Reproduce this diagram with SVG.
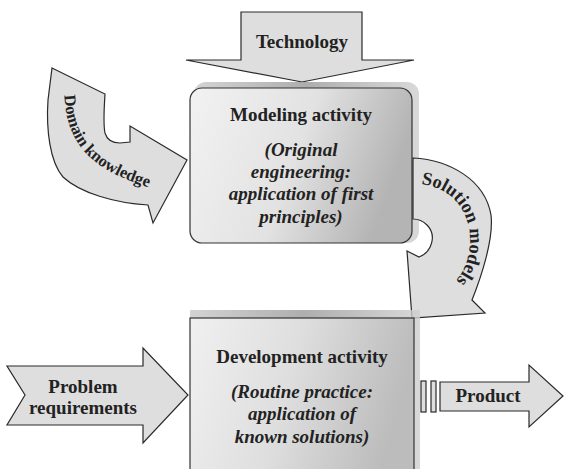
<svg xmlns="http://www.w3.org/2000/svg" width="564" height="469" viewBox="0 0 564 469">
<defs>
<linearGradient id="boxg" x1="0" y1="0" x2="1" y2="0.25">
<stop offset="0" stop-color="#f2f2f2"/>
<stop offset="0.55" stop-color="#e2e2e2"/>
<stop offset="1" stop-color="#b4b4b4"/>
</linearGradient>
<linearGradient id="devg" x1="0" y1="0" x2="1" y2="0.2">
<stop offset="0" stop-color="#f0f0f0"/>
<stop offset="0.5" stop-color="#dedede"/>
<stop offset="1" stop-color="#bcbcbc"/>
</linearGradient>
<linearGradient id="topsh" x1="0" y1="0" x2="1" y2="0">
<stop offset="0" stop-color="#c8c8c8"/>
<stop offset="0.5" stop-color="#9a9a9a"/>
<stop offset="1" stop-color="#cfcfcf"/>
</linearGradient>
<path id="dkpath" d="M 64,88 C 65,140 85,170 158,190"/>
<path id="smpath" d="M 410,184 C 448,182 470,208 470,240 C 470,266 458,286 430,300"/>
</defs>
<style>
.arr{fill:#dedede;stroke:#2a2a2a;stroke-width:1.2;stroke-linejoin:miter}
.t{font-family:"Liberation Serif","DejaVu Serif",serif;font-weight:bold;fill:#222;text-anchor:middle}
.h{font-size:19px}
.i{font-size:19px;font-style:italic}
.c{font-size:16.5px;text-anchor:start}
.box{stroke:#333;stroke-width:1.2}
</style>
<rect width="564" height="469" fill="#ffffff"/>
<g id="connectors">
<g id="technology">
<path class="arr" d="M 241,12 L 362,12 L 362,60 L 414,60 L 302,82 L 186,60 L 241,60 Z"/>
<text class="t h" x="302" y="48">Technology</text>
</g>
<g id="domain-knowledge">
<path class="arr" d="M 52,68 L 105,94 C 104,110 103,124 105,133 C 107,140 112,143 120,143 L 130,142 L 130,126 L 187,160 L 153,223 L 148,205 C 115,203 80,193 63,177 C 50,162 46,130 48,100 Z"/>
<text class="t c"><textPath href="#dkpath" startOffset="7">Domain knowledge</textPath></text>
</g>
<g id="problem-requirements">
<path class="arr" d="M 7,366 L 143,366 L 143,348 L 188,395 L 143,443 L 143,425 L 7,425 L 25,395 Z"/>
<text class="t h" x="83" y="393">Problem</text>
<text class="t h" x="83" y="414">requirements</text>
</g>
<g id="product">
<rect class="arr" x="421" y="381" width="5" height="31"/>
<rect class="arr" x="431" y="381" width="5" height="31"/>
<path class="arr" d="M 440,382 L 529,382 L 529,365 L 563,396 L 529,427 L 529,411 L 440,411 Z"/>
<text class="t h" x="488" y="402">Product</text>
</g>
</g>
<g id="modeling-activity">
<rect x="194" y="82" width="225" height="161" rx="12" fill="url(#topsh)" opacity="0.8"/>
<rect class="box" x="190" y="88" width="222" height="155" rx="12" fill="url(#boxg)"/>
<text class="t h" x="301" y="121">Modeling activity</text>
<text class="t i" x="301" y="156">(Original</text>
<text class="t i" x="301" y="178">engineering:</text>
<text class="t i" x="301" y="200">application of first</text>
<text class="t i" x="301" y="223">principles)</text>
</g>
<g id="solution-models">
<path class="arr" d="M 413,158 C 450,160 485,180 491,215 C 494,240 480,280 472,300 L 485,313 L 412,318 L 407,251 L 419,257 C 432,252 437,235 427,225 C 423,221 418,219 413,219 Z"/>
<text class="t" style="font-size:18.5px;text-anchor:start"><textPath href="#smpath" startOffset="11">Solution models</textPath></text>
</g>
<g id="development-activity">
<rect x="190" y="310" width="230" height="170" fill="url(#topsh)" opacity="0.8"/>
<rect class="box" x="190" y="318" width="224" height="160" fill="url(#devg)"/>
<text class="t h" x="302" y="363">Development activity</text>
<text class="t i" x="302" y="398">(Routine practice:</text>
<text class="t i" x="302" y="420">application of</text>
<text class="t i" x="302" y="443">known solutions)</text>
</g>
</svg>
